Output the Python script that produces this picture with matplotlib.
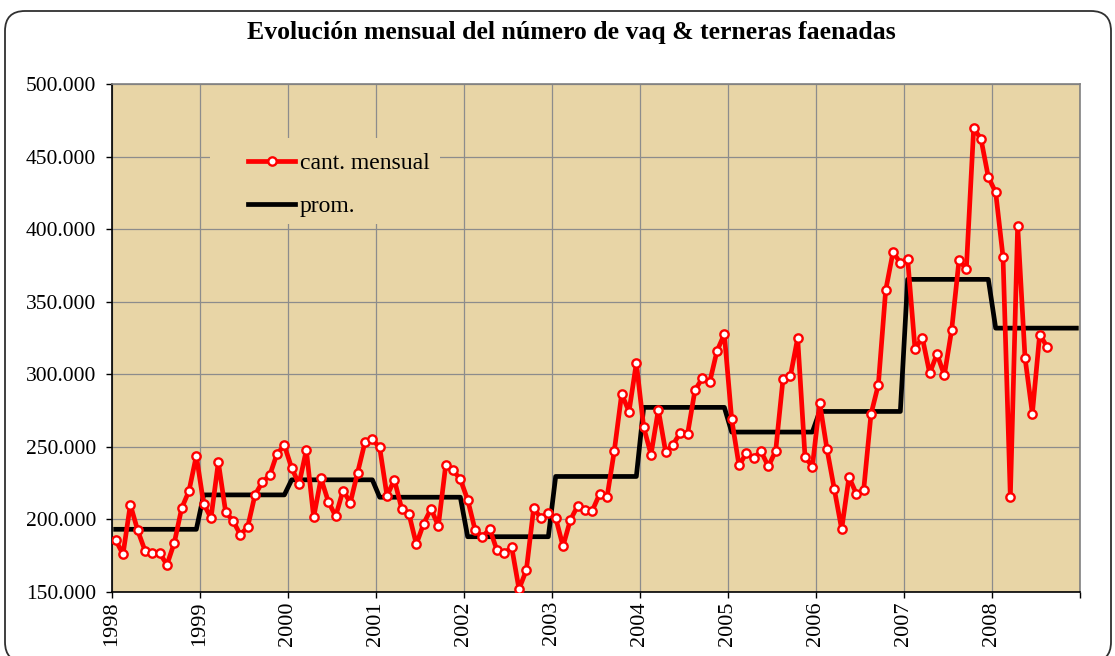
import numpy as np
import matplotlib
matplotlib.use("Agg")
import matplotlib.pyplot as plt
from matplotlib.patches import FancyBboxPatch, Rectangle
from matplotlib.ticker import FuncFormatter

# monthly slaughter (cabezas), Jan 1998 - Aug 2008
mensual_1998 = [185800, 176000, 210200, 192500, 178500, 176900, 176700, 168800, 184000, 207700, 219700, 243900]
mensual_1999 = [210700, 201000, 239500, 205000, 199000, 189500, 194800, 216900, 225700, 230300, 245200, 251000]
mensual_2000 = [235500, 224300, 247800, 201500, 228200, 212300, 202200, 219900, 211600, 232300, 253300, 255100]
mensual_2001 = [249600, 216200, 227300, 207500, 203600, 182900, 197100, 207300, 195500, 237200, 234000, 227600]
mensual_2002 = [213600, 193000, 187700, 193600, 178700, 176700, 181000, 152000, 165000, 207700, 200800, 204300]
mensual_2003 = [201200, 181500, 199600, 209300, 206800, 206100, 217600, 215300, 247400, 286500, 274300, 307800]
mensual_2004 = [263600, 244700, 275500, 246500, 251600, 259700, 259200, 289200, 297200, 294500, 316100, 327600]
mensual_2005 = [269100, 237200, 245600, 242400, 247000, 236500, 247200, 296700, 298600, 325000, 243300, 236200]
mensual_2006 = [280400, 248300, 220900, 193200, 229200, 217700, 220200, 272500, 292800, 357800, 384100, 376800]
mensual_2007 = [379200, 317500, 325300, 300700, 314000, 299300, 330600, 378600, 372400, 469500, 462100, 435800]
mensual_2008 = [425400, 381000, 215500, 402500, 311500, 272900, 327400, 319100]

# yearly average level (prom.), one value per year
anios = [1998, 1999, 2000, 2001, 2002, 2003, 2004, 2005, 2006, 2007, 2008]
prom_anual = [193200, 216900, 227300, 215300, 188100, 229600, 277200, 260200, 274400, 365400, 331800]

mensual = (mensual_1998 + mensual_1999 + mensual_2000 + mensual_2001 + mensual_2002 + mensual_2003
           + mensual_2004 + mensual_2005 + mensual_2006 + mensual_2007 + mensual_2008)
prom = np.repeat(prom_anual, 12)

x_mens = 1998 + (np.arange(len(mensual)) + 0.5) / 12
x_prom = 1998 + (np.arange(len(prom)) + 0.5) / 12

bg = "#e8d5a6"
serif = ["Liberation Serif", "DejaVu Serif"]
plt.rcParams["font.family"] = serif

fig = plt.figure(figsize=(11.15, 6.56), dpi=100)
fig.patch.set_facecolor("white")

# rounded frame around the whole chart
frame = FancyBboxPatch((5, -6), 1106, 651, boxstyle="round,pad=0,rounding_size=20",
                       transform=None, fill=False, edgecolor="#303030", lw=1.3)
fig.add_artist(frame)

ax = fig.add_axes([112 / 1115, 64 / 656, 968 / 1115, 508 / 656])
ax.set_facecolor(bg)
ax.set_axisbelow(True)

ax.plot(x_mens, mensual, color="#ff0000", lw=3.4, marker="o", ms=6,
        mfc="white", mec="#ff0000", mew=1.7, label="cant. mensual", zorder=3)
ax.plot(x_prom, prom, color="black", lw=3.4, label="prom.", zorder=2.5)

ax.set_xlim(1998, 2009)
ax.set_ylim(150000, 500000)
ax.set_xticks(range(1998, 2010))
ax.set_xticklabels([str(a) for a in anios] + [""], rotation=90)
ax.set_yticks(range(150000, 500001, 50000))
ax.yaxis.set_major_formatter(FuncFormatter(lambda v, p: f"{int(v):,}".replace(",", ".")))
ax.grid(True, color="#8c8c8c", lw=0.9)

ax.tick_params(axis="y", direction="out", length=4.5, width=1, labelsize=15.5, pad=7)
ax.tick_params(axis="x", direction="out", length=4.5, width=1, labelsize=16, pad=2)
for s in ("left", "bottom"):
    ax.spines[s].set_color("black")
    ax.spines[s].set_linewidth(1.2)
for s in ("top", "right"):
    ax.spines[s].set_color("#808080")
    ax.spines[s].set_linewidth(1.2)

# legend sits on a patch of plain background that hides the grid
ax.add_patch(Rectangle((0.101, 0.724), 0.238, 0.17, transform=ax.transAxes,
                       facecolor=bg, edgecolor="none", zorder=1))
ax.legend(loc="upper left", bbox_to_anchor=(0.1405, 0.865), frameon=False,
          borderpad=0, borderaxespad=0, handlelength=2.0, handletextpad=0.2,
          labelspacing=0.9, fontsize=17)

fig.text(571 / 1115, 1 - 33 / 656, "Evolución mensual del número de vaq & terneras faenadas",
         ha="center", va="center", fontsize=18.5, fontweight="bold")

fig.savefig("out.png", dpi=100)
